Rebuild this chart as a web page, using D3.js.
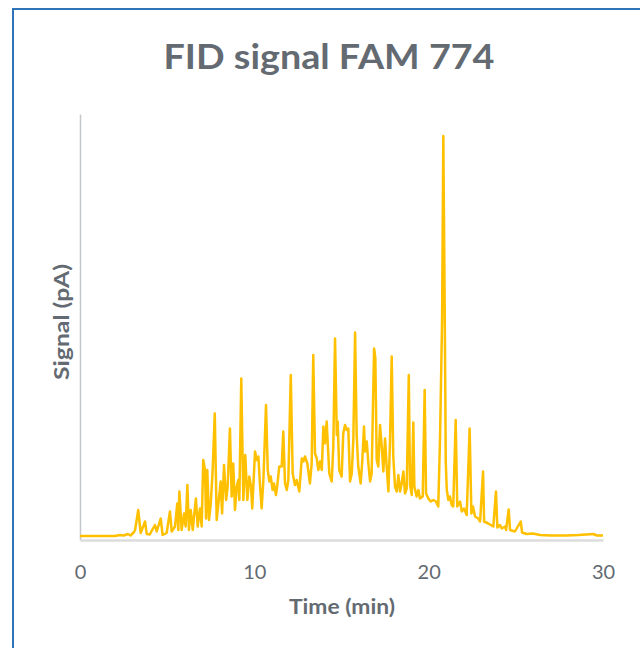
<!DOCTYPE html>
<html>
<head>
<meta charset="utf-8">
<script src="https://cdn.jsdelivr.net/npm/d3@7"></script>
<style>
  body { margin: 0; background: #fff; }
  text { font-family: Lato, "Open Sans", sans-serif; }
</style>
</head>
<body>
<div class="container"></div>
<script>
var width = 640;
var height = 648;

var chartTitle = 'FID signal FAM 774';
var xTitle = 'Time (min)';
var yTitle = 'Signal (pA)';
var xTicks = [0, 10, 20, 30];

// [time (min), signal (pA)]
var trace = [
  [0,0.8],[2.0,0.8],[2.3,1.0],[2.5,0.9],[2.75,1.2],[2.9,0.9],[3.1,1.6],[3.16,2.0],[3.34,6.0],[3.48,1.4],
  [3.73,3.7],[3.83,1.2],[4.0,1.1],[4.17,2.2],[4.30,3.0],[4.40,1.7],[4.63,4.3],[4.74,1.0],[4.97,1.4],[5.16,5.7],
  [5.26,1.7],[5.45,2.7],[5.58,7.3],[5.64,2.0],[5.70,9.7],[5.83,2.0],[5.97,5.3],[6.06,2.7],[6.16,11.0],[6.25,2.0],
  [6.35,6.0],[6.47,2.0],[6.54,4.7],[6.65,8.3],[6.75,2.7],[6.88,6.3],[6.98,2.7],[7.07,16.0],[7.17,14.0],[7.23,4.3],
  [7.30,14.0],[7.40,4.0],[7.50,7.3],[7.61,14.0],[7.73,25.3],[7.84,4.0],[7.96,8.0],[8.07,11.7],[8.15,5.3],[8.26,15.0],
  [8.38,8.0],[8.47,10.7],[8.60,22.3],[8.70,8.7],[8.79,15.3],[8.89,6.0],[8.99,10.7],[9.08,12.0],[9.14,8.0],[9.25,32.3],
  [9.37,8.0],[9.48,17.0],[9.60,8.0],[9.71,12.7],[9.81,10.7],[9.88,6.3],[10.04,17.7],[10.14,16.0],[10.23,16.7],[10.33,10.7],
  [10.42,6.3],[10.52,12.0],[10.67,27.0],[10.77,14.0],[10.86,11.7],[10.94,12.7],[11.05,10.0],[11.13,11.3],[11.24,9.0],[11.32,11.0],
  [11.43,14.7],[11.57,14.7],[11.66,21.7],[11.76,11.3],[11.86,10.0],[11.95,12.0],[12.09,33.0],[12.20,13.3],[12.33,11.0],[12.43,12.0],
  [12.58,9.7],[12.72,16.3],[12.81,15.7],[12.91,16.7],[13.04,15.3],[13.19,11.3],[13.29,15.3],[13.38,37.0],[13.48,17.3],[13.58,16.3],
  [13.67,14.0],[13.77,15.7],[13.87,14.0],[13.96,22.7],[14.05,19.3],[14.15,23.7],[14.24,17.3],[14.30,13.3],[14.44,11.7],[14.53,18.7],
  [14.63,40.3],[14.73,21.0],[14.78,23.7],[14.87,14.0],[15.01,12.7],[15.10,21.3],[15.20,23.0],[15.30,22.0],[15.39,22.3],[15.49,11.7],
  [15.59,13.3],[15.68,20.3],[15.78,41.5],[15.87,21.0],[15.96,14.7],[16.10,11.3],[16.19,15.7],[16.29,22.7],[16.35,17.7],[16.45,19.7],
  [16.54,15.3],[16.64,11.7],[16.73,13.3],[16.87,38.3],[16.94,36.3],[17.02,16.0],[17.11,14.7],[17.21,23.0],[17.31,18.7],[17.40,13.7],
  [17.50,20.3],[17.59,14.7],[17.69,9.7],[17.78,19.3],[17.88,36.7],[17.97,16.7],[18.07,10.7],[18.17,9.7],[18.26,13.0],[18.36,9.7],
  [18.45,11.3],[18.55,13.7],[18.64,9.3],[18.74,10.3],[18.86,33.0],[18.93,11.0],[19.03,9.0],[19.12,23.5],[19.18,10.7],[19.31,8.7],
  [19.41,10.0],[19.50,8.3],[19.66,8.7],[19.77,30.0],[19.85,9.3],[19.98,8.3],[20.12,7.7],[20.27,8.0],[20.42,7.7],[20.55,6.7],
  [20.65,20.0],[20.77,44.0],[20.84,80.8],[20.94,37.4],[20.98,15.7],[21.04,10.0],[21.13,8.0],[21.22,8.7],[21.32,7.0],[21.41,6.7],
  [21.55,24.0],[21.64,6.7],[21.80,7.7],[21.90,5.7],[22.03,6.3],[22.18,5.0],[22.35,22.3],[22.45,5.3],[22.54,6.7],[22.66,4.7],
  [22.85,4.3],[22.95,3.7],[23.12,13.7],[23.18,3.7],[23.42,3.3],[23.71,2.7],[23.86,9.7],[23.94,2.5],[24.09,3.0],[24.19,2.3],
  [24.38,2.7],[24.44,2.0],[24.59,6.1],[24.67,2.0],[24.95,1.7],[25.28,3.7],[25.36,1.5],[25.62,1.2],[25.97,1.3],[26.39,1.0],
  [27.0,0.9],[27.92,0.9],[28.6,1.0],[29.45,1.2],[29.64,0.9],[30,0.9]
];

var plotLeft = 80, plotRight = 603, plotTop = 114, plotBottom = 540;
var textColor = '#636a71';

var draw = function() {
  var svg = d3.select('.container').append('svg')
    .attr('width', width)
    .attr('height', height);

  svg.append('rect')
    .attr('width', width).attr('height', height)
    .attr('fill', '#fff');

  // chart frame (runs off the right and bottom edges)
  svg.append('rect')
    .attr('x', 13).attr('y', 9)
    .attr('width', 700).attr('height', 700)
    .attr('fill', 'none')
    .attr('stroke', '#2f73b9')
    .attr('stroke-width', 2);

  var x = d3.scaleLinear().domain([0, 30]).range([plotLeft, plotRight]);
  var y = d3.scaleLinear().domain([0, 85.2]).range([plotBottom, plotTop]);

  var yAxis = svg.append('g')
    .attr('transform', 'translate(' + plotLeft + ',0)')
    .call(d3.axisLeft(y).tickValues([]).tickSizeOuter(0));
  yAxis.select('.domain').attr('stroke', '#c4c7ca').attr('stroke-width', 1.5);

  var xAxis = svg.append('g')
    .attr('transform', 'translate(0,' + plotBottom + ')')
    .call(d3.axisBottom(x).tickValues(xTicks).tickSize(0).tickPadding(0));
  xAxis.select('.domain').attr('stroke', '#dcdcdc').attr('stroke-width', 2.5);
  xAxis.selectAll('.tick text')
    .attr('y', 39)
    .attr('dy', 0)
    .style('font-size', '20px')
    .attr('fill', textColor);

  var line = d3.line()
    .x(function(d) { return x(d[0]); })
    .y(function(d) { return y(d[1]); });

  svg.append('path')
    .datum(trace)
    .attr('d', line)
    .attr('fill', 'none')
    .attr('stroke', '#ffc000')
    .attr('stroke-width', 2.5)
    .attr('stroke-linejoin', 'round');

  svg.append('text')
    .attr('x', 329).attr('y', 69)
    .attr('text-anchor', 'middle')
    .attr('textLength', 331)
    .attr('lengthAdjust', 'spacingAndGlyphs')
    .style('font-size', '34px')
    .style('font-weight', 'bold')
    .attr('fill', textColor)
    .text(chartTitle);

  svg.append('text')
    .attr('x', 342).attr('y', 614)
    .attr('text-anchor', 'middle')
    .attr('textLength', 106)
    .attr('lengthAdjust', 'spacingAndGlyphs')
    .style('font-size', '20px')
    .style('font-weight', 'bold')
    .attr('fill', textColor)
    .text(xTitle);

  svg.append('text')
    .attr('transform', 'translate(69,322) rotate(-90)')
    .attr('text-anchor', 'middle')
    .attr('textLength', 116)
    .attr('lengthAdjust', 'spacingAndGlyphs')
    .style('font-size', '20px')
    .style('font-weight', 'bold')
    .attr('fill', textColor)
    .text(yTitle);
};

window.onload = draw;
</script>
</body>
</html>
